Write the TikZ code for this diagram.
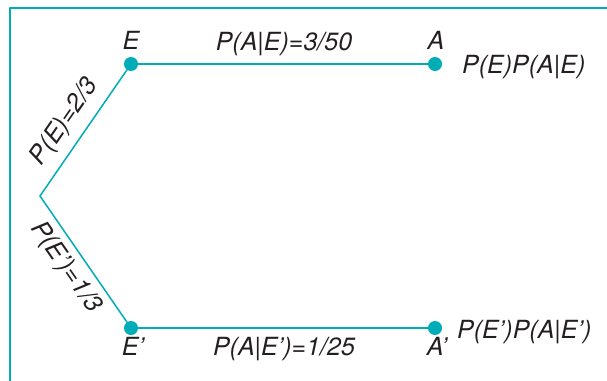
\documentclass[tikz,border=0pt]{standalone}
\usepackage{fontspec}
\setmainfont{TeX Gyre Heros}
\usetikzlibrary{positioning}
\definecolor{treeline}{RGB}{0,172,181}
\definecolor{inkgray}{RGB}{35,31,32}
\tikzset{
  dot/.style={circle,fill=treeline,inner sep=0pt,minimum size=14pt},
  branch/.style={draw=treeline,line width=1.5pt},
  lbl/.style={text=inkgray,font=\fontsize{25}{29}\selectfont\itshape,inner sep=1pt},
}
\begin{document}
\begin{tikzpicture}[x=1pt,y=-1pt,every path/.style={line join=round,line cap=round}]
    \useasboundingbox (0,0) rectangle (607,380);
    \draw[treeline,line width=2.5pt,line cap=butt] (10,381) -- (10,8) -- (608,8);
    \coordinate (root) at (40,196);
    \node[dot] (E) at (131,64) {};
    \node[dot] (A) at (435,64) {};
    \node[dot] (Ep) at (131,328) {};
    \node[dot] (Ap) at (435,328) {};
    % branches
    \draw[branch] (root) -- node[lbl,sloped,above=8pt,pos=0.49] (pE) {P(E)=2/3} (E);
    \draw[branch] (root) -- node[lbl,sloped,below=6pt,pos=0.48] (pEp) {P(E')=1/3} (Ep);
    \draw[branch] (E) -- (A);
    \draw[branch] (Ep) -- (Ap);
    % labels
    \node[lbl,anchor=base] (Elbl) at (131,49) {E};
    \node[lbl,anchor=base] (Albl) at (436,49) {A};
    \node[lbl,anchor=base] (pAE) at (284,50) {P(A|E)=3/50};
    \node[lbl,anchor=base west] (jointA) at (461,73) {P(E)P(A|E)};
    \node[lbl,anchor=base] (Eplbl) at (133,355) {E'};
    \node[lbl,anchor=base] (Aplbl) at (437,355) {A'};
    \node[lbl,anchor=base] (pAEp) at (284,355) {P(A|E')=1/25};
    \node[lbl,anchor=base west] (jointAp) at (456,338) {P(E')P(A|E')};
  \end{tikzpicture}
\end{document}
